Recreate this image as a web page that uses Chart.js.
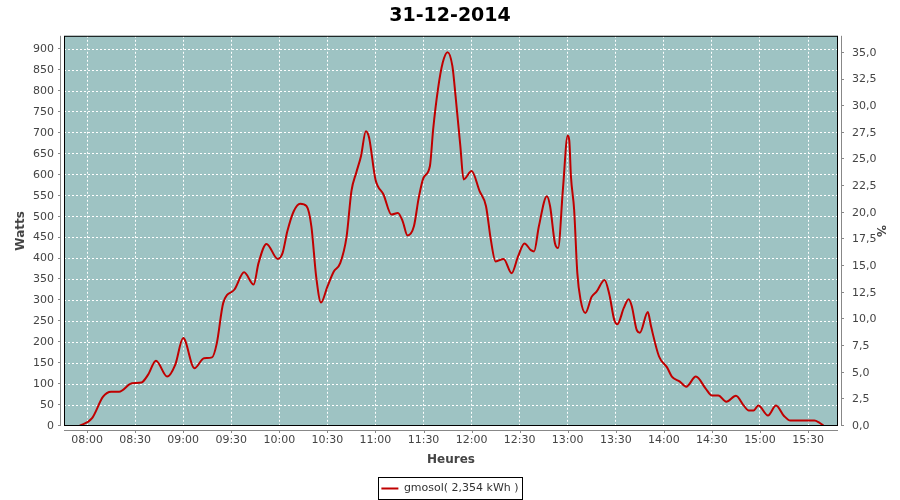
<!DOCTYPE html>
<html>
<head>
<meta charset="utf-8">
<script src="https://cdn.jsdelivr.net/npm/chart.js@4.4.1/dist/chart.umd.min.js"></script>
<style>
    body { margin: 0; background: #ffffff; }
    #chartBox { width: 900px; height: 500px; }
</style>
</head>
<body>
<div id="chartBox"><canvas id="powerChart" width="900" height="500"></canvas></div>
<script>
// readings (time of day, watts)
const times = ["07:55", "08:03", "08:10", "08:15", "08:20", "08:28", "08:34", "08:38", "08:43", "08:50",
    "08:55", "09:00", "09:07", "09:13", "09:18", "09:21", "09:25", "09:32", "09:38", "09:44",
    "09:47", "09:52", "09:59", "10:02", "10:05", "10:09", "10:13", "10:17", "10:20", "10:23",
    "10:26", "10:30", "10:34", "10:38", "10:42", "10:45", "10:48", "10:51", "10:54", "10:56",
    "11:00", "11:05", "11:10", "11:14", "11:17", "11:20", "11:24", "11:27", "11:30", "11:34",
    "11:36", "11:39", "11:42", "11:45", "11:48", "11:50", "11:53", "11:55", "12:00", "12:05",
    "12:09", "12:12", "12:15", "12:20", "12:25", "12:29", "12:33", "12:37", "12:39", "12:42",
    "12:47", "12:49", "12:52", "12:54", "12:57", "13:00", "13:01", "13:02", "13:04", "13:06",
    "13:08", "13:11", "13:15", "13:18", "13:23", "13:26", "13:29", "13:31", "13:35", "13:38",
    "13:40", "13:43", "13:45", "13:50", "13:52", "13:57", "14:02", "14:05", "14:10", "14:14",
    "14:20", "14:26", "14:30", "14:34", "14:39", "14:45", "14:50", "14:53", "14:56", "14:59",
    "15:05", "15:10", "15:15", "15:19", "15:34", "15:37", "15:40"];
const watts = [0, 18, 70, 82, 82, 102, 104, 122, 156, 118,
    146, 210, 138, 162, 164, 198, 294, 326, 367, 338,
    389, 435, 399, 413, 465, 513, 531, 525, 477, 357,
    295, 333, 369, 389, 453, 561, 605, 645, 704, 689,
    589, 553, 505, 509, 489, 455, 477, 545, 593, 621,
    708, 804, 868, 893, 860, 788, 668, 589, 609, 561,
    525, 445, 393, 399, 365, 405, 436, 420, 417, 477,
    549, 525, 437, 425, 565, 694, 681, 597, 517, 365,
    302, 270, 309, 321, 349, 314, 254, 243, 282, 303,
    286, 230, 223, 272, 238, 166, 140, 118, 106, 94,
    118, 90, 73, 73, 58, 72, 48, 37, 37, 49,
    25, 49, 24, 13, 13, 8, 0];
const hourTicks = ["08:00", "08:30", "09:00", "09:30", "10:00", "10:30", "11:00", "11:30",
    "12:00", "12:30", "13:00", "13:30", "14:00", "14:30", "15:00", "15:30"];
const wattTicks = [0, 50, 100, 150, 200, 250, 300, 350, 400, 450, 500, 550, 600, 650, 700, 750, 800, 850, 900];
const pctTicks = [0, 2.5, 5, 7.5, 10, 12.5, 15, 17.5, 20, 22.5, 25, 27.5, 30, 32.5, 35];

const FONT = "DejaVu Sans";
const TEXT = "#444444";
const AXIS = "#888888";

function toMinutes(hhmm) {
    let parts = hhmm.split(":");
    return parseInt(parts[0]) * 60 + parseInt(parts[1]);
}

function toHHMM(min) {
    let h = Math.floor(min / 60);
    let m = Math.round(min % 60);
    return String(h).padStart(2, "0") + ":" + String(m).padStart(2, "0");
}

const points = times.map(function (t, i) {
    return { x: toMinutes(t), y: watts[i] };
});

// plot background, black frame, offset grey axis lines and ticks, legend box
const plotFrame = {
    id: "plotFrame",
    beforeDraw: function (chart) {
        const ctx = chart.ctx;
        const a = chart.chartArea;
        ctx.save();
        ctx.fillStyle = "#9ec3c3";
        ctx.fillRect(a.left, a.top, a.right - a.left, a.bottom - a.top);
        ctx.restore();
    },
    afterDraw: function (chart) {
        const ctx = chart.ctx;
        const a = chart.chartArea;
        ctx.save();
        ctx.lineWidth = 1;
        ctx.strokeStyle = "#000000";
        ctx.strokeRect(a.left + 0.5, a.top + 0.5, a.right - a.left - 1, a.bottom - a.top - 1);

        ctx.strokeStyle = AXIS;
        ctx.beginPath();
        ctx.moveTo(a.left - 3.5, a.top);
        ctx.lineTo(a.left - 3.5, a.bottom);
        ctx.moveTo(a.right + 3.5, a.top);
        ctx.lineTo(a.right + 3.5, a.bottom);
        ctx.moveTo(a.left, a.bottom + 4.5);
        ctx.lineTo(a.right, a.bottom + 4.5);
        chart.scales.yWatts.ticks.forEach(function (t) {
            let y = Math.round(chart.scales.yWatts.getPixelForValue(t.value)) - 0.5;
            ctx.moveTo(a.left - 6, y);
            ctx.lineTo(a.left - 3.5, y);
        });
        chart.scales.yPct.ticks.forEach(function (t) {
            let y = Math.round(chart.scales.yPct.getPixelForValue(t.value)) - 0.5;
            ctx.moveTo(a.right + 3.5, y);
            ctx.lineTo(a.right + 6, y);
        });
        chart.scales.x.ticks.forEach(function (t) {
            let x = Math.round(chart.scales.x.getPixelForValue(t.value)) + 0.5;
            ctx.moveTo(x, a.bottom + 4.5);
            ctx.lineTo(x, a.bottom + 7);
        });
        ctx.stroke();

        const hb = chart.legend.legendHitBoxes[0];
        if (hb) {
            ctx.strokeStyle = "#000000";
            ctx.strokeRect(Math.round(hb.left) - 2.5, Math.round(hb.top) - 5.5, Math.round(hb.width) + 7, Math.round(hb.height) + 11);
        }
        ctx.restore();
    }
};

const ctxEl = document.getElementById("powerChart");
const PowerChart = new Chart(ctxEl, {
    type: "line",
    data: {
        datasets: [{
            label: "gmosol( 2,354 kWh )",
            data: points,
            yAxisID: "yWatts",
            borderColor: "#c00000",
            backgroundColor: "#c00000",
            borderWidth: 2,
            pointRadius: 0,
            cubicInterpolationMode: "monotone",
            fill: false
        }]
    },
    options: {
        responsive: false,
        animation: false,
        layout: {
            padding: { left: 0, right: 0, top: 0, bottom: -4 }
        },
        plugins: {
            title: {
                display: true,
                text: "31-12-2014",
                color: "#000000",
                font: { family: FONT, size: 19, weight: "bold" },
                padding: { top: 5, bottom: 8 }
            },
            legend: {
                position: "bottom",
                labels: {
                    color: "#333333",
                    font: { family: FONT, size: 11 },
                    boxWidth: 17,
                    boxHeight: 2,
                    padding: 10,
                    generateLabels: function (chart) {
                        return [{
                            text: chart.data.datasets[0].label,
                            fillStyle: "#c00000",
                            strokeStyle: "#c00000",
                            lineWidth: 0,
                            fontColor: "#333333",
                            hidden: false,
                            datasetIndex: 0
                        }];
                    }
                }
            },
            tooltip: { enabled: false }
        },
        scales: {
            x: {
                type: "linear",
                min: 465.6,
                max: 948.7,
                afterBuildTicks: function (scale) {
                    scale.ticks = hourTicks.map(function (h) { return { value: toMinutes(h) }; });
                },
                afterFit: function (scale) {
                    scale.height = 47;
                },
                ticks: {
                    color: TEXT,
                    padding: 8,
                    maxRotation: 0,
                    autoSkip: false,
                    font: { family: FONT, size: 11 },
                    callback: function (value) {
                        return toHHMM(value);
                    }
                },
                grid: { color: "#ffffff", lineWidth: 1, drawTicks: false },
                border: { display: false, dash: [2, 2] },
                title: {
                    display: true,
                    text: "Heures",
                    color: TEXT,
                    font: { family: FONT, size: 12, weight: "bold" },
                    padding: { top: 0, bottom: 6 }
                }
            },
            yWatts: {
                type: "linear",
                position: "left",
                min: 0,
                max: 932,
                afterBuildTicks: function (scale) {
                    scale.ticks = wattTicks.map(function (v) { return { value: v }; });
                },
                afterFit: function (scale) {
                    scale.width = 64;
                },
                ticks: {
                    color: TEXT,
                    padding: 10,
                    font: { family: FONT, size: 11 }
                },
                grid: { color: "#ffffff", lineWidth: 1, drawTicks: false },
                border: { display: false, dash: [2, 2] },
                title: {
                    display: true,
                    text: "Watts",
                    color: TEXT,
                    font: { family: FONT, size: 12, weight: "bold" },
                    padding: { top: 14, bottom: 0 }
                }
            },
            yPct: {
                type: "linear",
                position: "right",
                min: 0,
                max: 36.6,
                afterBuildTicks: function (scale) {
                    scale.ticks = pctTicks.map(function (v) { return { value: v }; });
                },
                afterFit: function (scale) {
                    scale.width = 62;
                },
                ticks: {
                    color: TEXT,
                    padding: 14,
                    font: { family: FONT, size: 11 },
                    callback: function (value) {
                        return value.toFixed(1).replace(".", ",");
                    }
                },
                grid: { display: false, drawTicks: false },
                border: { display: false },
                title: {
                    display: true,
                    text: "%",
                    color: TEXT,
                    font: { family: FONT, size: 12, weight: "bold" },
                    padding: { top: 13, bottom: 0 }
                }
            }
        }
    },
    plugins: [plotFrame]
});
</script>
</body>
</html>
